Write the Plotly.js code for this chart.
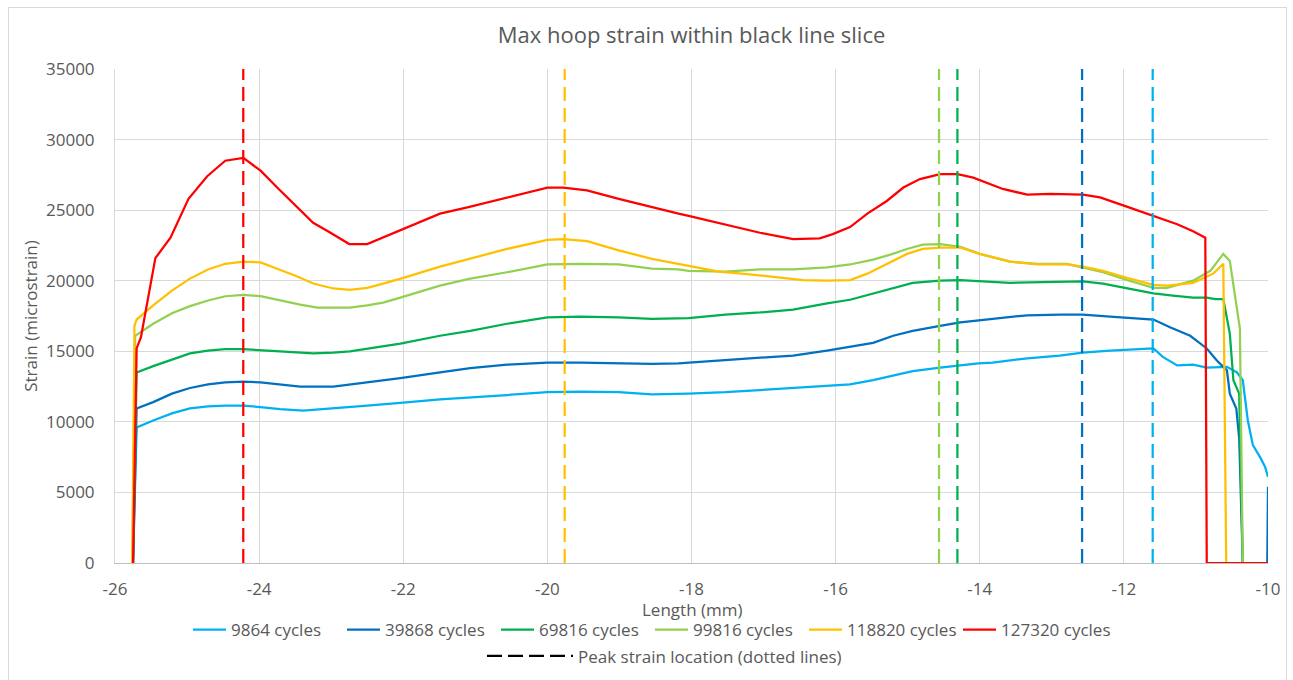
<!DOCTYPE html>
<html>
<head>
<meta charset="utf-8">
<script src="https://cdn.plot.ly/plotly-3.0.1.min.js"></script>
<style>
  html, body { margin: 0; padding: 0; background: #ffffff; overflow: hidden; }
  #chart { position: absolute; left: 0; top: 0; width: 1293px; height: 680px; }
  #frame { position: absolute; left: 8px; top: 7px; width: 1277px; height: 690px; border: 1px solid #d9d9d9; pointer-events: none; }
</style>
</head>
<body>
<div id="chart"></div>
<div id="frame"></div>
<script>
// ---------- data ----------
const seriesNames = ['9864 cycles', '39868 cycles', '69816 cycles', '99816 cycles', '118820 cycles', '127320 cycles'];
const seriesColors = ['#00B0F0', '#0070C0', '#00B050', '#92D050', '#FFC000', '#FF0000'];

const x9864 = [-25.75, -25.70, -25.47, -25.21, -24.96, -24.71, -24.47, -24.22, -23.98, -23.71, -23.39, -22.97, -22.50, -22.04, -21.49, -20.56, -20.00, -19.54, -19.01, -18.55, -18.18, -18.04, -17.53, -17.05, -16.59, -16.12, -15.80, -15.48, -15.20, -14.93, -14.55, -14.27, -14.02, -13.82, -13.34, -12.89, -12.57, -12.19, -11.59, -11.46, -11.26, -11.04, -10.85, -10.57, -10.43, -10.35, -10.28, -10.21, -10.11, -10.04, -10.00];
const y9864 = [0, 9600, 10100, 10600, 10950, 11100, 11150, 11150, 11050, 10900, 10800, 10950, 11150, 11350, 11600, 11900, 12100, 12150, 12100, 11950, 11950, 12000, 12100, 12250, 12350, 12500, 12650, 12950, 13300, 13600, 13850, 14000, 14150, 14200, 14500, 14700, 14900, 15050, 15200, 14600, 14000, 14050, 13850, 13900, 13500, 12950, 10100, 8350, 7500, 6800, 6100];

const x39868 = [-25.75, -25.70, -25.47, -25.21, -24.96, -24.71, -24.47, -24.22, -23.98, -23.71, -23.43, -22.97, -22.50, -22.04, -21.49, -21.07, -20.56, -20.00, -19.54, -19.01, -18.55, -18.18, -18.04, -17.53, -17.05, -16.59, -16.12, -15.80, -15.48, -15.20, -14.93, -14.55, -14.27, -13.82, -13.34, -12.89, -12.57, -12.19, -11.59, -11.36, -11.08, -10.85, -10.71, -10.57, -10.53, -10.44, -10.40, -10.35, -10.01, -10.00];
const y39868 = [0, 10950, 11400, 12000, 12400, 12650, 12800, 12850, 12800, 12650, 12500, 12500, 12800, 13100, 13500, 13800, 14050, 14200, 14200, 14150, 14100, 14150, 14200, 14400, 14550, 14700, 15050, 15300, 15600, 16100, 16450, 16800, 17050, 17300, 17550, 17600, 17600, 17450, 17250, 16700, 16100, 15200, 14350, 13650, 12000, 10950, 8850, 0, 0, 5400];

const x69816 = [-25.75, -25.70, -25.47, -25.21, -24.96, -24.71, -24.47, -24.22, -23.98, -23.71, -23.25, -22.97, -22.74, -22.50, -22.28, -22.04, -21.49, -21.07, -20.56, -20.00, -19.54, -19.01, -18.55, -18.18, -18.04, -17.53, -17.05, -16.59, -16.12, -15.80, -15.48, -15.20, -14.93, -14.55, -14.27, -13.58, -12.89, -12.57, -12.29, -11.96, -11.59, -11.32, -11.04, -10.85, -10.73, -10.62, -10.53, -10.48, -10.40, -10.35, -10.00];
const y69816 = [0, 13500, 13950, 14400, 14850, 15050, 15150, 15150, 15100, 15000, 14850, 14900, 15000, 15200, 15400, 15550, 16100, 16450, 16950, 17400, 17450, 17400, 17300, 17300, 17350, 17600, 17750, 17950, 18400, 18650, 19100, 19500, 19850, 20000, 20050, 19850, 19950, 19950, 19800, 19450, 19100, 18950, 18800, 18800, 18700, 18700, 16250, 12950, 12000, 0, 0];

const x99816 = [-25.76, -25.72, -25.47, -25.21, -24.96, -24.71, -24.47, -24.22, -23.98, -23.71, -23.43, -23.19, -22.97, -22.74, -22.50, -22.28, -22.04, -21.49, -21.07, -20.56, -20.00, -19.54, -19.01, -18.55, -18.18, -18.04, -17.53, -17.05, -16.59, -16.12, -15.80, -15.48, -15.24, -15.01, -14.79, -14.55, -14.27, -14.00, -13.58, -13.20, -12.79, -12.57, -12.29, -11.96, -11.59, -11.40, -11.04, -10.80, -10.62, -10.53, -10.39, -10.35, -10.00];
const y99816 = [0, 16100, 16950, 17700, 18200, 18600, 18900, 19000, 18900, 18600, 18300, 18100, 18100, 18100, 18250, 18450, 18800, 19650, 20150, 20600, 21150, 21200, 21150, 20850, 20800, 20700, 20650, 20800, 20800, 20950, 21150, 21500, 21850, 22250, 22550, 22600, 22400, 21900, 21350, 21200, 21200, 20950, 20600, 20050, 19500, 19500, 20000, 20700, 21900, 21400, 16600, 0, 0];

const x118820 = [-25.76, -25.73, -25.70, -25.47, -25.21, -24.96, -24.71, -24.47, -24.22, -23.98, -23.75, -23.47, -23.25, -22.97, -22.74, -22.50, -22.28, -22.00, -21.49, -21.07, -20.56, -20.00, -19.78, -19.45, -19.01, -18.55, -18.18, -18.04, -17.62, -17.30, -16.81, -16.45, -16.12, -15.80, -15.56, -15.29, -15.01, -14.79, -14.55, -14.27, -14.00, -13.58, -13.20, -12.79, -12.57, -12.29, -11.96, -11.59, -11.40, -11.04, -10.76, -10.62, -10.58, -10.00];
const y118820 = [0, 16800, 17250, 18250, 19300, 20150, 20800, 21200, 21350, 21300, 20850, 20300, 19800, 19450, 19350, 19500, 19800, 20200, 21000, 21550, 22250, 22900, 22950, 22800, 22150, 21550, 21200, 21050, 20650, 20500, 20250, 20050, 20000, 20050, 20500, 21200, 21900, 22250, 22350, 22350, 21900, 21350, 21150, 21150, 21000, 20700, 20200, 19700, 19650, 19850, 20500, 21200, 0, 0];

const x127320 = [-25.75, -25.70, -25.64, -25.44, -25.23, -24.98, -24.72, -24.47, -24.22, -23.98, -23.75, -23.47, -23.25, -23.01, -22.75, -22.50, -22.00, -21.49, -21.11, -20.56, -20.00, -19.78, -19.45, -19.01, -18.55, -18.18, -18.04, -17.53, -17.05, -16.59, -16.22, -16.04, -15.80, -15.56, -15.29, -15.06, -14.83, -14.55, -14.31, -14.09, -13.86, -13.68, -13.34, -13.02, -12.57, -12.33, -11.96, -11.59, -11.26, -11.04, -10.87, -10.85, -10.00];
const y127320 = [0, 15200, 16000, 21600, 23050, 25800, 27400, 28500, 28700, 27800, 26600, 25200, 24100, 23400, 22600, 22600, 23650, 24750, 25200, 25900, 26600, 26600, 26400, 25800, 25200, 24750, 24600, 24000, 23400, 22950, 23000, 23300, 23800, 24750, 25650, 26600, 27200, 27550, 27550, 27300, 26850, 26500, 26100, 26150, 26100, 25900, 25250, 24600, 24000, 23500, 23050, 0, 0];

// peak strain locations (dashed lines), same order as series
const peakX = [-11.60, -12.58, -14.31, -14.565, -19.76, -24.22];
const peakLineY = [0, 35000];
const peakLegendName = 'Peak strain location (dotted lines)';

const xTitleText = 'Length (mm)';
const yTitleText = 'Strain (microstrain)';
const xTickVals = [-26, -24, -22, -20, -18, -16, -14, -12, -10];
const xTickText = ['-26', '-24', '-22', '-20', '-18', '-16', '-14', '-12', '-10'];
const yTickVals = [0, 5000, 10000, 15000, 20000, 25000, 30000, 35000];
const yTickText = ['0', '5000', '10000', '15000', '20000', '25000', '30000', '35000'];

// ---------- traces ----------
const xs = [x9864, x39868, x69816, x99816, x118820, x127320];
const ys = [y9864, y39868, y69816, y99816, y118820, y127320];

const traces = [];
for (let i = 0; i < seriesNames.length; i++) {
  traces.push({
    type: 'scatter', mode: 'lines', name: seriesNames[i],
    x: xs[i], y: ys[i],
    line: { color: seriesColors[i], width: 2.25 },
    legend: 'legend', hoverinfo: 'skip'
  });
}
for (let i = 0; i < peakX.length; i++) {
  traces.push({
    type: 'scatter', mode: 'lines', showlegend: false,
    x: peakLineY.map(() => peakX[i]), y: peakLineY,
    line: { color: seriesColors[i], width: 2.25, dash: '14px,7px' },
    hoverinfo: 'skip'
  });
}
traces.push({
  type: 'scatter', mode: 'lines', name: peakLegendName,
  x: [null], y: [null],
  line: { color: '#000000', width: 2.25, dash: '15px,6px' },
  legend: 'legend2', hoverinfo: 'skip'
});

const FONT = '"Open Sans", sans-serif';
const TXT = '#595959';

const layout = {
  width: 1293, height: 680,
  margin: { l: 114.7, r: 25, t: 68.7, b: 116.7, pad: 0 },
  paper_bgcolor: 'rgba(0,0,0,0)',
  plot_bgcolor: '#ffffff',
  font: { family: FONT, color: TXT, size: 17 },
  title: {
    text: 'Max hoop strain within black line slice',
    font: { family: FONT, size: 22, color: TXT },
    x: 0.5, xref: 'paper', xanchor: 'center',
    y: 1 - 35 / 680, yref: 'container', yanchor: 'middle'
  },
  xaxis: {
    range: [-26, -10], tickmode: 'array', tickvals: xTickVals, ticktext: xTickText,
    showgrid: true, gridcolor: '#d9d9d9', gridwidth: 1,
    zeroline: false, showline: true, linecolor: '#bfbfbf', linewidth: 1,
    ticks: '', ticklabelstandoff: 11, automargin: false,
    tickfont: { family: FONT, size: 17, color: TXT },
    fixedrange: true
  },
  yaxis: {
    range: [0, 35000], tickmode: 'array', tickvals: yTickVals, ticktext: yTickText,
    showgrid: true, gridcolor: '#d9d9d9', gridwidth: 1,
    zeroline: false, showline: true, linecolor: '#d9d9d9', linewidth: 1,
    ticks: '', ticklabelstandoff: 16, automargin: false,
    tickfont: { family: FONT, size: 17, color: TXT },
    title: { text: yTitleText, font: { family: FONT, size: 17, color: TXT }, standoff: 4 },
    fixedrange: true
  },
  annotations: [{
    text: xTitleText, showarrow: false,
    xref: 'paper', x: 0.5, xanchor: 'center',
    yref: 'paper', y: -(610 - 563.3) / 494.6, yanchor: 'middle',
    font: { family: FONT, size: 17, color: TXT }
  }],
  showlegend: true,
  legend: {
    orientation: 'h', xref: 'container', yref: 'container',
    x: 0.1454, xanchor: 'left', y: 0.1, yanchor: 'top',
    entrywidth: 106, entrywidthmode: 'pixels', itemwidth: 33,
    font: { family: FONT, size: 17, color: TXT }, bgcolor: 'rgba(0,0,0,0)', traceorder: 'normal'
  },
  legend2: {
    orientation: 'h', xref: 'container', yref: 'container',
    x: 0.3728, xanchor: 'left', y: 0.0613, yanchor: 'top',
    itemwidth: 86,
    font: { family: FONT, size: 17, color: TXT }, bgcolor: 'rgba(0,0,0,0)'
  }
};

Plotly.newPlot('chart', traces, layout, { displayModeBar: false, staticPlot: true });
</script>
</body>
</html>
